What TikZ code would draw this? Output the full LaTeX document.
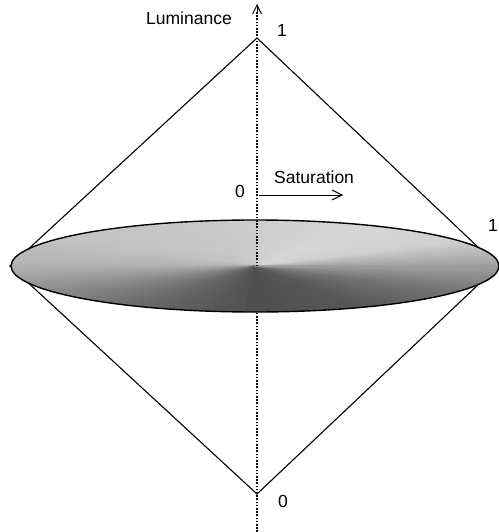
\documentclass[tikz,border=0pt]{standalone}
\usepackage{fontspec}
\setmainfont{Liberation Sans}
\usetikzlibrary{arrows.meta}
\tikzset{
  edge/.style={line width=1.1pt, black},
  axisline/.style={line width=1.8pt, dash pattern=on 1.6pt off 1.6pt, black},
  lbl/.style={font=\fontsize{17.5}{20}\selectfont, inner sep=0pt},
}
\begin{document}
\begin{tikzpicture}[x=1pt,y=-1pt]
\useasboundingbox (0,0) rectangle (498,532);
% named points
\coordinate (top) at (257,38);
\coordinate (bot) at (257,494);
\coordinate (lft) at (10,266);
\coordinate (rgt) at (498,266);
\coordinate (c) at (255,266);
\coordinate (axtop) at (257,4);
\coordinate (axbot) at (257,532);
\coordinate (etop) at (257,220);
\coordinate (sat0) at (259,195);
\coordinate (sat1) at (343,195);
% diamond
\draw[edge] (lft) -- (top) -- (rgt) -- (bot) -- cycle;
% axis
\draw[axisline] (axbot) -- (257,12);
\draw[line width=0.9pt, -{Straight Barb[length=9pt,width=9pt]}] (257,14) -- (axtop);
% shaded disc
\begin{scope}
  \clip (c) ellipse [x radius=244, y radius=46];
  \begin{scope}[shift={(255,266)}, x=1pt, y=1pt]
    \foreach \a in {0,3,...,357} {
      \pgfmathsetmacro{\m}{\a+1.5}
      \pgfmathtruncatemacro{\i}{\m/30}
      \pgfmathsetmacro{\f}{(\m-30*\i)/30}
      \pgfmathsetmacro{\Lo}{{62,82,84,80,78,76,70,54,40,31,34,45,62}[\i]}
      \pgfmathsetmacro{\Hi}{{62,82,84,80,78,76,70,54,40,31,34,45,62}[\i+1]}
      \pgfmathsetmacro{\g}{100-(\Lo*(1-\f)+\Hi*\f)}
      \fill[black!\g, draw=black!\g, line width=0.8pt, line join=round] (0,0) -- (\a:270 and 60) -- (\a+3.6:270 and 60) -- cycle;
    }
  \end{scope}
\end{scope}
\draw[line width=1.4pt] (c) ellipse [x radius=244, y radius=46];
\draw[axisline] (etop) -- (257,266);
% saturation arrow
\draw[line width=0.9pt, -{Straight Barb[length=10pt,width=10pt]}] (sat0) -- (sat1);
% labels
\node[lbl, anchor=east] (lum) at (232,18) {Luminance};
\node[lbl] (one) at (282,30) {1};
\node[lbl] (zero) at (240,191) {0};
\node[lbl, anchor=west] (sat) at (274,177) {Saturation};
\node[lbl, anchor=east] (oner) at (498,225) {1};
\node[lbl] (zerob) at (283,501) {0};
\end{tikzpicture}
\end{document}
